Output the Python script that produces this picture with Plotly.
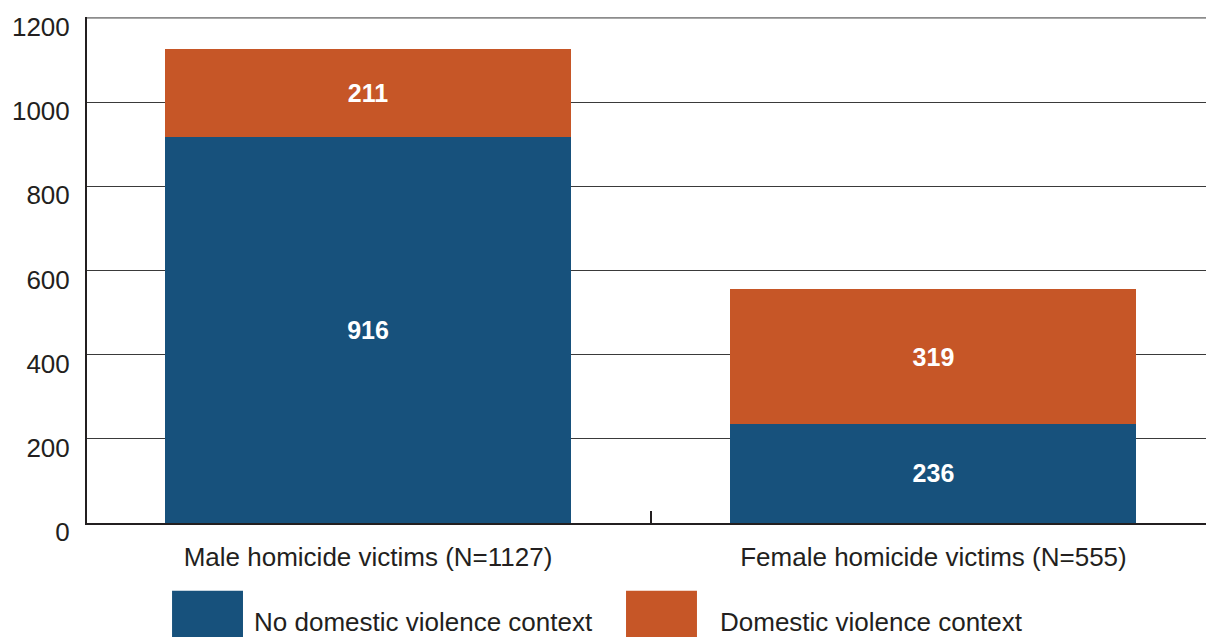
import plotly.graph_objects as go

categories = ["Male homicide victims (N=1127)", "Female homicide victims (N=555)"]
no_dv = [916, 236]
dv = [211, 319]
series_names = ["No domestic violence context", "Domestic violence context"]
y_ticks = [0, 200, 400, 600, 800, 1000, 1200]

BLUE = "#17517c"
ORANGE = "#c65627"
INK = "#231f20"
FONT = "Liberation Sans"

fig = go.Figure()
fig.add_trace(go.Bar(x=categories, y=no_dv, name=series_names[0], marker=dict(color=BLUE, line=dict(width=0)),
                     text=[str(v) for v in no_dv], textposition="inside", insidetextanchor="middle",
                     textfont=dict(color="white", size=25, family=FONT, weight="bold"), width=0.718))
fig.add_trace(go.Bar(x=categories, y=dv, name=series_names[1], marker=dict(color=ORANGE, line=dict(width=0)),
                     text=[str(v) for v in dv], textposition="inside", insidetextanchor="middle",
                     textfont=dict(color="white", size=25, family=FONT, weight="bold"), width=0.718))

fig.update_layout(
    barmode="stack",
    width=1206, height=637,
    margin=dict(l=87, r=0, t=17, b=114),
    paper_bgcolor="white", plot_bgcolor="white",
    showlegend=False,
    font=dict(family=FONT, color=INK),
    uniformtext=dict(minsize=10, mode="show"),
)
fig.update_xaxes(
    range=[-0.497, 1.482],
    showline=True, linecolor=INK, linewidth=2,
    ticks="inside", tickson="boundaries", ticklen=12, tickwidth=2, tickcolor=INK,
    tickfont=dict(size=26, color=INK, family=FONT),
    ticklabelstandoff=10,
    showgrid=False,
)
fig.update_yaxes(
    range=[0, 1202], tickvals=y_ticks,
    showline=True, linecolor=INK, linewidth=2,
    showgrid=True, gridcolor="#3a3a3a", gridwidth=1,
    zeroline=False,
    tickfont=dict(size=26, color=INK, family=FONT),
    ticks="", ticklabelstandoff=10, ticklabelshift=9,
)

# Top frame line (grey) at the highest tick
fig.add_shape(type="line", xref="paper", yref="y", x0=0, x1=1, y0=max(y_ticks), y1=max(y_ticks),
              line=dict(color="#8c8c8c", width=2), layer="below")

# Legend drawn with large swatches below the chart
sw = [(0.076, 0.1394, 0.1475), (0.4817, 0.5451, 0.564)]
colors = [BLUE, ORANGE]
for (x0, x1, tx), c, name in zip(sw, colors, series_names):
    fig.add_shape(type="rect", xref="paper", yref="paper", x0=x0, x1=x1, y0=-0.26, y1=-0.134,
                  fillcolor=c, line=dict(width=0), layer="above")
    fig.add_annotation(xref="paper", yref="paper", x=tx, y=-0.196, text=name, showarrow=False,
                       xanchor="left", yanchor="middle", font=dict(size=26, color=INK, family=FONT))

fig.write_html("out.html", config={"displayModeBar": False},
               post_script="document.body.style.margin='0';document.body.style.overflow='hidden';")
